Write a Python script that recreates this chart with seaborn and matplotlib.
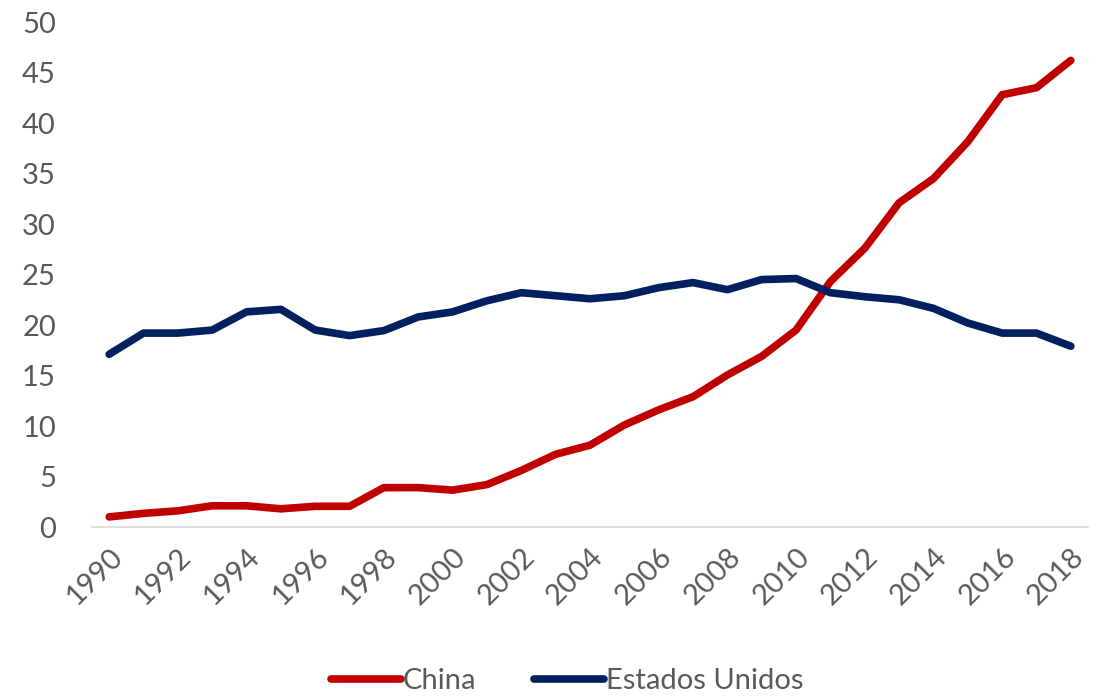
import matplotlib
matplotlib.use("Agg")
import matplotlib.pyplot as plt
import seaborn as sns
import pandas as pd

# Values
years = list(range(1990, 2019))
china = [1.0, 1.35, 1.6, 2.1, 2.1, 1.8, 2.05, 2.05, 3.9, 3.9, 3.65, 4.2,
         5.6, 7.2, 8.1, 10.1, 11.6, 12.9, 15.05, 16.9, 19.5, 24.3, 27.6,
         32.1, 34.5, 38.15, 42.8, 43.5, 46.2]
usa = [17.1, 19.2, 19.2, 19.5, 21.3, 21.55, 19.5, 18.95, 19.45, 20.8, 21.3,
       22.4, 23.2, 22.9, 22.6, 22.9, 23.7, 24.2, 23.5, 24.5, 24.6, 23.2,
       22.8, 22.5, 21.65, 20.2, 19.2, 19.2, 17.9]
series_names = ["China", "Estados Unidos"]
colors = ["#C00000", "#002060"]

df = pd.DataFrame({
    "year": years * 2,
    "value": china + usa,
    "pais": [series_names[0]] * len(years) + [series_names[1]] * len(years),
})

sns.set_style("white")
plt.rcParams['font.family'] = ['Lato', 'DejaVu Sans']

fig = plt.figure(figsize=(10.99, 6.97), dpi=100)
ax = fig.add_axes([0.0837, 0.2439, 0.9063, 0.7245])

sns.lineplot(data=df, x="year", y="value", hue="pais", palette=colors,
             linewidth=5.5, ax=ax, solid_capstyle="round")

ax.set_xlim(1989.5, 2018.5)
ax.set_ylim(0, 50)
ax.set_xticks(years[::2])
ax.set_xticklabels([str(y) for y in years[::2]], rotation=45, ha="right",
                   rotation_mode="anchor")
ax.set_yticks(range(0, 51, 5))
ax.tick_params(axis="both", labelsize=21, labelcolor="#595959", length=0)
ax.tick_params(axis="x", pad=12)
ax.tick_params(axis="y", pad=26)
ax.set_xlabel("")
ax.set_ylabel("")
for side in ["top", "right", "left"]:
    ax.spines[side].set_visible(False)
ax.spines["bottom"].set_color("#d9d9d9")
ax.spines["bottom"].set_linewidth(1.2)
ax.grid(False)

handles, labels = ax.get_legend_handles_labels()
leg = ax.legend(handles, labels, loc="center", bbox_to_anchor=(0.477, -0.305),
                ncol=2, frameon=False, fontsize=21, handlelength=2.4,
                handletextpad=0.05, columnspacing=2.0)
for t in leg.get_texts():
    t.set_color("#595959")

fig.savefig("out.png", dpi=100)
